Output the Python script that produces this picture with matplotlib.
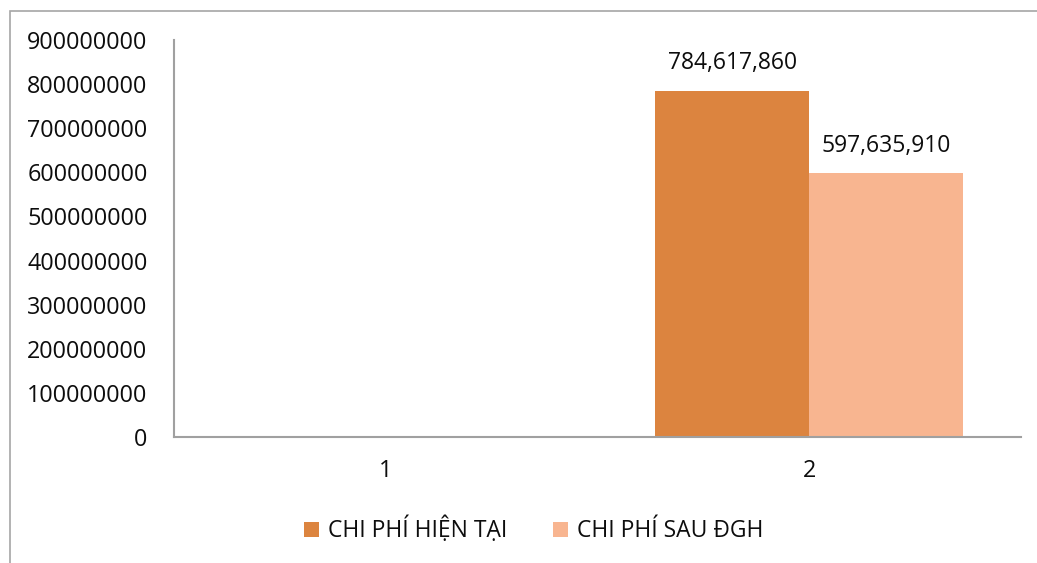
import matplotlib.pyplot as plt
import numpy as np
from matplotlib.patches import Rectangle

# data
categories = ['1', '2']
chi_phi_hien_tai = [0, 784617860]
chi_phi_sau_dgh = [0, 597635910]
series_names = ['CHI PHÍ HIỆN TẠI', 'CHI PHÍ SAU ĐGH']
yticks = np.arange(0, 900000001, 100000000)

plt.rcParams['font.family'] = ['Open Sans', 'DejaVu Sans']

fig = plt.figure(figsize=(10.37, 5.63), dpi=100)
ax = fig.add_axes([174/1037, 1-437/563, (1021-174)/1037, (437-40)/563])

# chart frame (partly outside the picture)
fig.patches.append(Rectangle((10/1037, -0.1), 1.2, 1.1 - 11/563,
                             transform=fig.transFigure, fill=False,
                             edgecolor='#a6a6a6', linewidth=1.2))

x = np.arange(len(categories))
w = 0.364
b1 = ax.bar(x - w/2, chi_phi_hien_tai, w, color='#dc843f', label=series_names[0])
b2 = ax.bar(x + w/2, chi_phi_sau_dgh, w, color='#f8b590', label=series_names[1])

for bars, vals in ((b1, chi_phi_hien_tai), (b2, chi_phi_sau_dgh)):
    for r, v in zip(bars, vals):
        if v > 0:
            ax.annotate(f'{v:,}', (r.get_x() + r.get_width()/2, v),
                        xytext=(0, 20), textcoords='offset points',
                        ha='center', va='center', fontsize=16.5,
                        color='#0d0d0d')

ax.set_xlim(-0.5, 1.5)
ax.set_ylim(0, 900000000)
ax.set_xticks(x)
ax.set_xticklabels(categories)
ax.set_yticks(yticks)
ax.set_yticklabels([str(t) for t in yticks])
ax.tick_params(axis='both', length=0, labelsize=16.8, labelcolor='#0d0d0d')
ax.tick_params(axis='y', pad=19)
ax.tick_params(axis='x', pad=16)

for s in ('top', 'right'):
    ax.spines[s].set_visible(False)
for s in ('left', 'bottom'):
    ax.spines[s].set_color('#a0a0a0')
    ax.spines[s].set_linewidth(1.5)

fig.legend(loc='center', bbox_to_anchor=(534/1037, 1-530/563), ncol=2,
           frameon=False, fontsize=16.5, handlelength=0.65, handleheight=0.65,
           handletextpad=0.4, columnspacing=2.0, labelcolor='#0d0d0d')

fig.savefig('out.png', dpi=100)
